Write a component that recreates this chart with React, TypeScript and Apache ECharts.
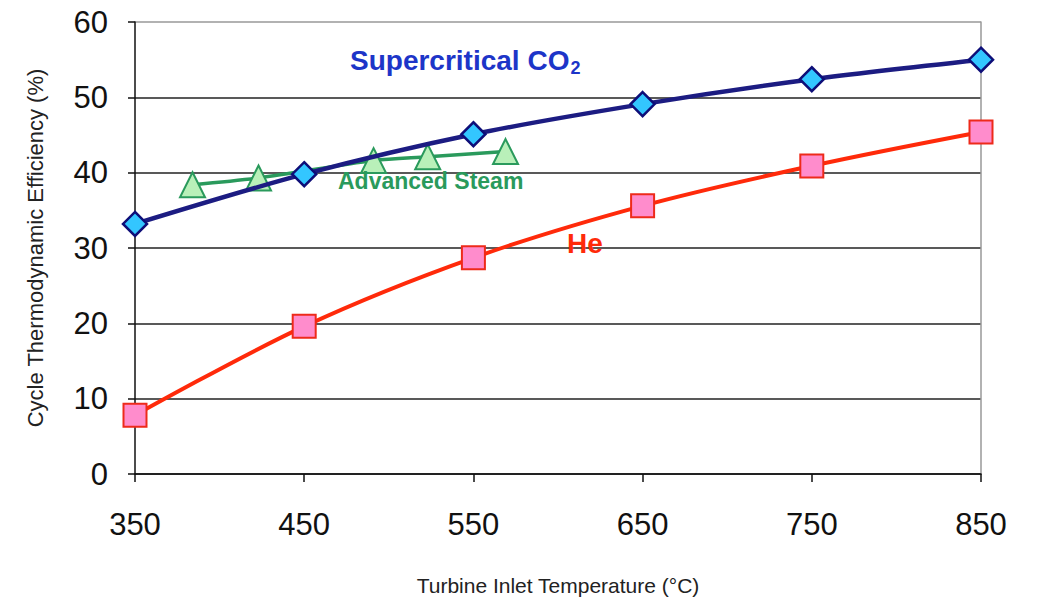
import React, { useEffect, useRef } from "react";
import * as echarts from "echarts";

// Turbine inlet temperature tick labels (°C)
const tempTicks = ["350", "450", "550", "650", "750", "850"];

// Supercritical CO2 cycle: temperature (°C) and efficiency (%)
const co2Temps = [350, 450, 550, 650, 750, 850];
const co2Eff = [33.2, 39.8, 45.1, 49.1, 52.4, 55.0];

// Helium cycle
const heTemps = [350, 450, 550, 650, 750, 850];
const heEff = [7.8, 19.6, 28.7, 35.6, 40.9, 45.4];

// Advanced steam cycle
const steamTemps = [384, 423, 491, 523, 569];
const steamEff = [38.4, 39.3, 41.6, 42.1, 42.8];

const pairs = (xs: number[], ys: number[]) => xs.map((x, i) => [x, ys[i]]);

const FONT = "'Liberation Sans', Arial, sans-serif";

export default function App() {
  const ref = useRef<HTMLDivElement>(null);

  useEffect(() => {
    if (!ref.current) return;
    const chart = echarts.init(ref.current, undefined, { renderer: "svg" });
    chart.setOption({
      animation: false,
      backgroundColor: "#ffffff",
      grid: { left: 135, right: 56, top: 22, bottom: 128 },
      xAxis: [
        {
          // numeric axis carrying the data
          type: "value",
          min: 350,
          max: 850,
          show: false,
        },
        {
          // visible temperature axis
          type: "category",
          data: tempTicks,
          boundaryGap: false,
          position: "bottom",
          axisLine: { lineStyle: { color: "#111", width: 1.5 } },
          axisTick: { show: true, length: 8, lineStyle: { color: "#111", width: 1.5 } },
          axisLabel: { color: "#111", fontSize: 31, fontFamily: FONT, margin: 35 },
          splitLine: { show: false },
          name: "Turbine Inlet Temperature (°C)",
          nameLocation: "middle",
          nameGap: 101,
          nameTextStyle: { color: "#222", fontSize: 21, fontFamily: FONT },
        },
      ],
      yAxis: [
        {
          type: "value",
          min: 0,
          max: 60,
          interval: 10,
          axisLine: { show: true, lineStyle: { color: "#111", width: 1.5 } },
          axisTick: { show: true, length: 7, lineStyle: { color: "#111", width: 1.5 } },
          axisLabel: { color: "#111", fontSize: 31, fontFamily: FONT, margin: 27 },
          splitLine: {
            show: true,
            lineStyle: {
              color: ["#222", "#222", "#222", "#222", "#222", "#222", "#999"],
              width: 1.5,
            },
          },
          name: "Cycle Thermodynamic Efficiency (%)",
          nameLocation: "middle",
          nameGap: 89,
          nameTextStyle: { color: "#222", fontSize: 22, fontFamily: FONT },
        },
        {
          // plot-area right border
          type: "value",
          min: 0,
          max: 60,
          interval: 10,
          position: "right",
          axisLine: { show: true, lineStyle: { color: "#999", width: 1.5 } },
          axisTick: { show: false },
          axisLabel: { show: false },
          splitLine: { show: false },
        },
      ],
      series: [
        {
          name: "Advanced Steam",
          type: "line",
          xAxisIndex: 0,
          yAxisIndex: 0,
          data: pairs(steamTemps, steamEff),
          smooth: 0.3,
          symbol: "triangle",
          symbolSize: 25,
          lineStyle: { color: "#2a9a5c", width: 3.5 },
          itemStyle: { color: "#b9f0b9", borderColor: "#2a9a5c", borderWidth: 2 },
          z: 3,
        },
        {
          name: "He",
          type: "line",
          xAxisIndex: 0,
          yAxisIndex: 0,
          data: pairs(heTemps, heEff),
          smooth: 0.35,
          symbol: "rect",
          symbolSize: 23,
          lineStyle: { color: "#ff2a0a", width: 4 },
          itemStyle: { color: "#ff8ccc", borderColor: "#ee2a1a", borderWidth: 2 },
          z: 4,
        },
        {
          name: "Supercritical CO2",
          type: "line",
          xAxisIndex: 0,
          yAxisIndex: 0,
          data: pairs(co2Temps, co2Eff),
          smooth: 0.3,
          symbol: "diamond",
          symbolSize: 24,
          lineStyle: { color: "#1c1c82", width: 4.5 },
          itemStyle: { color: "#33c6ff", borderColor: "#0e0e78", borderWidth: 2.5 },
          z: 5,
        },
      ],
      graphic: [
        {
          type: "text",
          x: 350,
          y: 60,
          z: 10,
          style: {
            text: "{a|Supercritical CO}{b|2}",
            verticalAlign: "middle",
            rich: {
              a: { fontSize: 28, fontWeight: "bold", fill: "#1d35c8", fontFamily: FONT, lineHeight: 32 },
              b: {
                fontSize: 18,
                fontWeight: "bold",
                fill: "#1d35c8",
                fontFamily: FONT,
                lineHeight: 32,
                padding: [16, 0, 0, 1],
              },
            },
          },
        },
        {
          type: "text",
          x: 338,
          y: 181,
          z: 10,
          style: {
            text: "Advanced Steam",
            verticalAlign: "middle",
            fill: "#2a9a5c",
            fontSize: 23,
            fontWeight: "bold",
            fontFamily: FONT,
          },
        },
        {
          type: "text",
          x: 567,
          y: 243,
          z: 10,
          style: {
            text: "He",
            verticalAlign: "middle",
            fill: "#ff2a0a",
            fontSize: 28,
            fontWeight: "bold",
            fontFamily: FONT,
          },
        },
      ],
    });
    return () => chart.dispose();
  }, []);

  return (
    <div
      ref={ref}
      style={{ position: "fixed", left: 0, top: 0, width: 1037, height: 602 }}
    />
  );
}
